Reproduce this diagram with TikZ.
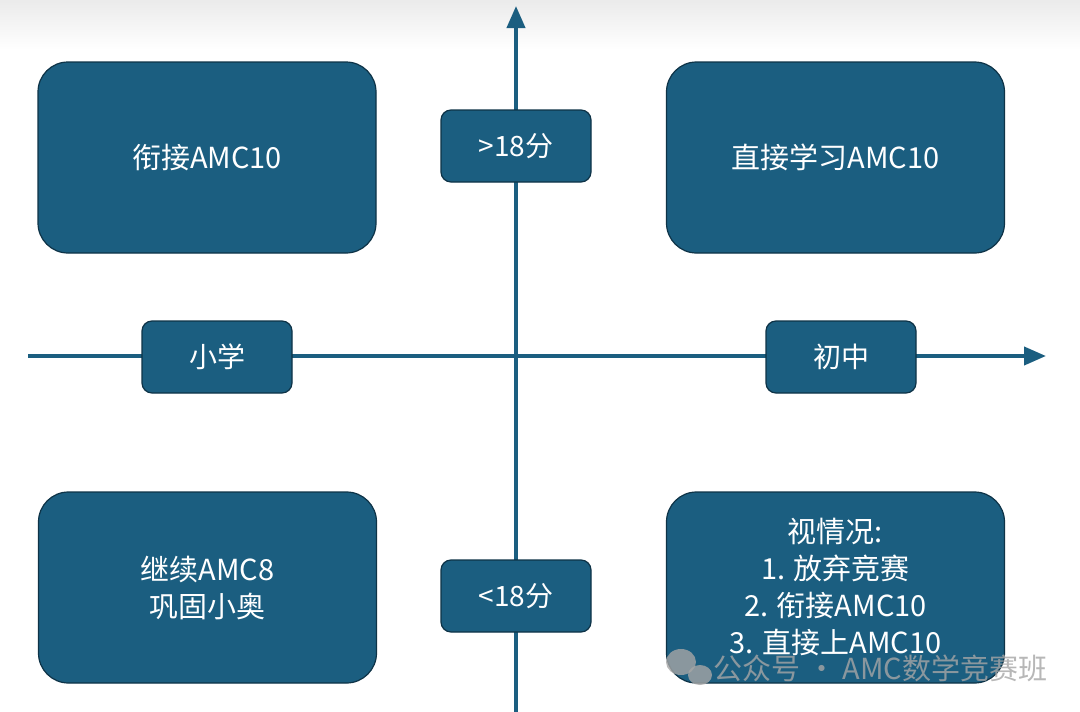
\documentclass[tikz,border=0pt]{standalone}
\usepackage{fontspec}
\setmainfont{Noto Sans CJK SC}
\usetikzlibrary{arrows.meta}
\definecolor{boxfill}{HTML}{1B5E80}
\definecolor{boxline}{HTML}{0E3347}
\definecolor{axis}{HTML}{1B5E80}
\tikzset{
  bigbox/.style={draw=boxline,line width=1.2pt,fill=boxfill,rounded corners=30pt,minimum width=338pt,minimum height=191pt,text=white,font=\fontsize{29}{37}\selectfont,align=center,inner sep=0pt},
  tag/.style={draw=boxline,line width=1.2pt,fill=boxfill,rounded corners=10pt,minimum width=150pt,minimum height=72pt,text=white,font=\fontsize{28}{30}\selectfont,inner sep=0pt},
  ax/.style={draw=axis,line width=4pt,-{Triangle[length=22pt,width=18pt]}}
}
\begin{document}
\begin{tikzpicture}[x=1pt,y=-1pt]
\useasboundingbox[fill=white] (0,0) rectangle (1080,712);
\shade[top color=black!8,bottom color=white] (0,0) rectangle (1080,50);
\coordinate (vb) at (516,712);
\coordinate (vt) at (516,6);
\coordinate (hl) at (28,356);
\coordinate (hr) at (1046,356);
\draw[ax] (vb) -- (vt);
\draw[ax] (hl) -- (hr);
\node[bigbox] (tl) at (207,157.5) {衔接AMC10};
\node[bigbox] (tr) at (835.5,157.5) {直接学习AMC10};
\node[bigbox] (bl) at (207.5,587.5) {继续AMC8\\巩固小奥};
\node[bigbox,font=\fontsize{29}{37}\selectfont] (br) at (835.5,587.5) {视情况:\\1. 放弃竞赛\\2. 衔接AMC10\\3. 直接上AMC10};
\node[tag] (gt) at (516,146) {>18分};
\node[tag] (lt) at (516,596) {<18分};
\node[tag] (xx) at (217,357) {小学};
\node[tag] (cz) at (841,357) {初中};
\node[text=gray!70,opacity=0.8,font=\fontsize{29}{30}\selectfont,anchor=west] (wm) at (710,668) {公众号 · AMC数学竞赛班};
\fill[gray!70,opacity=0.8] (681,662) ellipse (15pt and 13pt);
\fill[gray!70,opacity=0.8] (700,675) ellipse (12pt and 10pt);
\end{tikzpicture}
\end{document}
